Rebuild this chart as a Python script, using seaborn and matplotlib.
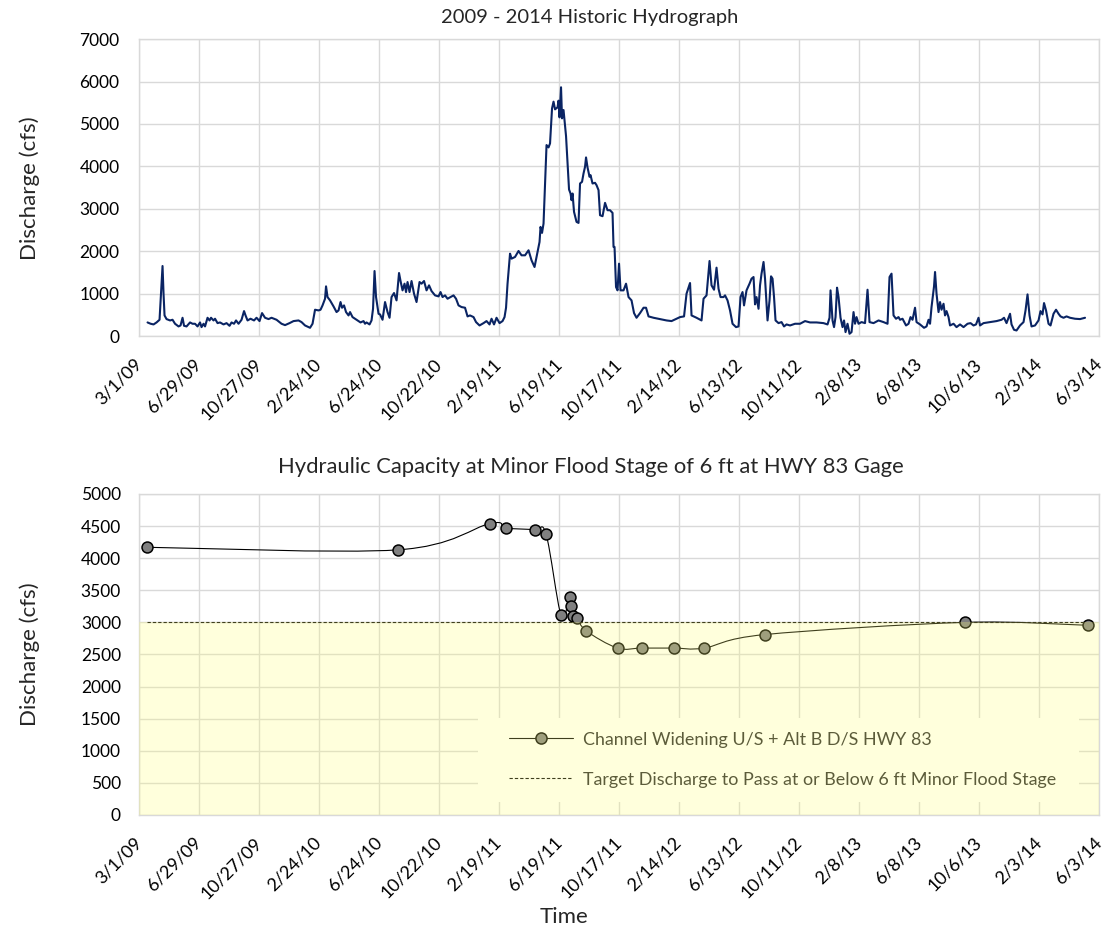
"""
Two stacked panels: 2009-2014 daily hydrograph and the hydraulic capacity
at minor flood stage (6 ft) at the HWY 83 gage.
"""

import numpy as np
import matplotlib
matplotlib.use("Agg")
import matplotlib.pyplot as plt
from matplotlib.path import Path
from matplotlib.patches import PathPatch, Rectangle
from matplotlib.lines import Line2D
import seaborn as sns

# ---------------------------------------------------------------------------
# Data  (x = days since 3/1/09)
# ---------------------------------------------------------------------------

tick_labels = ["3/1/09", "6/29/09", "10/27/09", "2/24/10", "6/24/10", "10/22/10",
               "2/19/11", "6/19/11", "10/17/11", "2/14/12", "6/13/12", "10/11/12",
               "2/8/13", "6/8/13", "10/6/13", "2/3/14", "6/3/14"]

hydro_day = [
    17, 23, 29, 35, 41, 44, 47, 49, 51, 55, 62, 67, 72, 79, 83, 87, 90, 95, 102, 107,
    112, 117, 122, 125, 129, 132, 137, 141, 144, 149, 152, 157, 162, 169, 175, 181, 185, 190, 194, 199,
    205, 210, 213, 217, 223, 230, 235, 241, 246, 252, 259, 265, 275, 285, 292, 301, 309, 319, 325, 332,
    342, 347, 352, 359, 363, 367, 372, 374, 377, 382, 389, 395, 399, 403, 406, 410, 414, 419, 422, 427,
    435, 443, 449, 452, 455, 461, 465, 468, 471, 474, 479,
    482, 487, 492, 497, 501, 505, 510, 515, 520, 523, 527, 531, 534, 537, 541, 545, 550, 555, 561, 565,
    570, 575, 580, 585, 592, 599, 603, 607, 612, 617, 623, 629, 634, 639, 645, 652, 657, 662, 669, 674,
    681, 689, 695, 701, 705, 710, 715, 721, 727, 731, 734, 737, 742, 745, 752, 759, 765, 772, 779, 785,
    791, 795, 801, 803, 806, 809, 812, 815, 819, 822, 826, 829, 832, 837, 839, 841, 844, 846, 849, 854,
    857, 860, 863, 865, 867, 870, 875, 879, 882, 886, 889, 892, 894, 897, 901, 903, 907, 912, 915, 919,
    922, 927, 932, 937,
    942, 947, 949, 951, 954, 957, 960, 963, 969, 974, 979, 985, 990, 995, 1002, 1009, 1014, 1019, 1029, 1042,
    1055, 1065, 1075, 1082, 1090, 1095, 1102, 1105, 1115, 1125, 1129, 1135, 1141, 1145, 1150, 1155, 1159, 1163, 1169, 1172,
    1177, 1182, 1187, 1194, 1199, 1203, 1207, 1210, 1215, 1221, 1225, 1229, 1232, 1235, 1239, 1242, 1245, 1249, 1252, 1257,
    1261, 1264, 1267, 1270, 1273, 1279, 1285, 1290, 1295, 1302, 1312, 1322, 1332, 1342, 1355, 1369, 1377, 1381, 1383, 1387,
    1390, 1393, 1396, 1399, 1403, 1407, 1410, 1413, 1417, 1421,
    1425, 1429, 1432, 1435, 1439, 1445, 1452, 1457, 1461, 1469, 1479, 1489, 1497, 1501, 1505, 1509, 1514, 1519, 1522, 1527,
    1534, 1539, 1543, 1547, 1552, 1555, 1562, 1570, 1575, 1579, 1582, 1585, 1590, 1592, 1595, 1599, 1602, 1605, 1609, 1612,
    1615, 1619, 1622, 1629, 1635, 1642, 1649, 1657, 1663, 1669, 1674, 1679, 1682, 1689, 1702, 1715, 1725, 1730, 1735, 1742,
    1745, 1750, 1755, 1762, 1769, 1773, 1777, 1781, 1785, 1792, 1799, 1803, 1807, 1810, 1814, 1819, 1823, 1829, 1834, 1839,
    1843, 1849, 1855, 1862, 1872, 1882, 1892,
]

hydro_cfs = [
    330, 300, 283, 330, 393, 1006, 1658, 1006, 495, 409, 377, 393, 299, 236, 259, 440, 251, 236, 330, 299,
    299, 236, 330, 220, 299, 236, 440, 377, 440, 377, 417, 314, 330, 283, 314, 251, 330, 299, 377, 299,
    393, 597, 495, 377, 417, 377, 440, 362, 550, 440, 409, 440, 393, 299, 267, 314, 362, 377, 338, 259,
    204, 299, 629, 613, 629, 731, 888, 1179, 927, 849, 707, 574, 613, 810, 676, 731, 574, 495, 574, 456,
    393, 330, 362, 299, 330, 283, 377, 652, 1540, 927, 534,
    519, 393, 810, 574, 440, 927, 1022, 849, 1493, 1305, 1085, 1242, 1045, 1281, 1045, 1305, 1006, 810, 1281, 1242,
    1305, 1085, 1203, 1069, 967, 943, 1045, 927, 967, 888, 927, 967, 888, 731, 692, 676, 472, 495, 456, 338,
    259, 314, 362, 283, 417, 283, 440, 314, 362, 456, 676, 1242, 1949, 1831, 1871, 2012, 1910, 1910, 2028, 1792,
    1635, 1871, 2224, 2578, 2437, 2657, 3600, 4504, 4449, 4543, 5368, 5526, 5345, 5392, 5549, 5156, 5864, 5133, 5329, 4716,
    4071, 3458, 3364, 3207, 3364, 2932, 2696, 2672, 3600, 3639, 3836, 3993, 4213, 3977, 3757, 3796, 3600, 3616, 3561, 3443,
    2853, 2830, 3144, 2971,
    2971, 2908, 2107, 2107, 1163, 1085, 1713, 1085, 1085, 1242, 927, 849, 550, 440, 550, 676, 676, 472, 440, 409,
    377, 362, 417, 456, 472, 1006, 1258, 495, 440, 377, 888, 967, 1776, 1203, 1100, 1619, 1124, 927, 927, 967,
    849, 613, 299, 220, 236, 927, 1045, 731, 1085, 1242, 1360, 1399, 755, 927, 652, 1203, 1478, 1753, 1360, 377,
    849, 1415, 1360, 927, 377, 314, 338, 236, 283, 259, 299, 299, 362, 330, 330, 314, 283, 440, 1085, 377,
    220, 456, 1148, 927, 440, 220, 377, 102, 299, 63,
    102, 574, 299, 456, 299, 338, 314, 1100, 338, 314, 377, 338, 299, 1399, 1478, 495, 417, 456, 393, 417,
    259, 299, 456, 393, 676, 338, 283, 204, 236, 393, 299, 692, 1179, 1517, 1006, 574, 810, 629, 770, 495,
    597, 456, 259, 299, 220, 283, 220, 299, 314, 259, 283, 440, 259, 314, 338, 362, 393, 440, 314, 534,
    283, 157, 141, 259, 338, 613, 990, 495, 236, 259, 377, 597, 519, 786, 613, 299, 259, 534, 629, 534,
    472, 440, 472, 440, 417, 409, 440,
]

cap_day = [16, 518, 702, 733, 791, 814, 844, 861, 863, 868, 876, 894,
           957, 1006, 1069, 1130, 1251, 1651, 1897]
cap_cfs = [4170, 4130, 4540, 4470, 4440, 4375, 3110, 3390, 3250, 3100, 3070, 2870,
           2600, 2600, 2600, 2600, 2810, 3000, 2955]

target_cfs = 3000

legend_labels = ["Channel Widening U/S + Alt B D/S HWY 83",
                 "Target Discharge to Pass at or Below 6 ft Minor Flood Stage"]

NAVY = "#0A2463"
GRID = "#D9D9D9"
MARKER = "#808080"


# ---------------------------------------------------------------------------
# Helpers
# ---------------------------------------------------------------------------

def smooth_path(x, y):
    """Excel-style smoothed line: Catmull-Rom segments drawn as cubic Beziers."""
    pts = np.column_stack([x, y]).astype(float)
    padded = np.vstack([pts[0], pts, pts[-1]])
    verts = [pts[0]]
    codes = [Path.MOVETO]
    for i in range(1, len(padded) - 2):
        p0, p1, p2, p3 = padded[i - 1], padded[i], padded[i + 1], padded[i + 2]
        verts += [p1 + (p2 - p0) / 6, p2 - (p3 - p1) / 6, p2]
        codes += [Path.CURVE4] * 3
    return Path(verts, codes)


def style_axes(ax, ymax, ystep, ypad):
    ax.set_xlim(0, 1920)
    ax.set_ylim(0, ymax)
    ax.set_xticks(np.arange(0, 1921, 120))
    ax.set_xticklabels(tick_labels, rotation=45, ha="right", va="center",
                       rotation_mode="anchor")
    ax.set_yticks(np.arange(0, ymax + 1, ystep))
    ax.grid(True, color=GRID, lw=1.0)
    ax.set_axisbelow(True)
    ax.tick_params(length=0, colors="black")
    ax.tick_params(axis="x", pad=18, labelsize=13)
    ax.tick_params(axis="y", pad=ypad, labelsize=12.5)
    for s in ax.spines.values():
        s.set_color(GRID)
        s.set_linewidth(1.0)
    ax.set_xlabel("")
    ax.set_ylabel("Discharge (cfs)", fontsize=16)
    ax.yaxis.set_label_coords(-0.103, 0.5)


# ---------------------------------------------------------------------------
# Figure
# ---------------------------------------------------------------------------

sns.set_style("white")
plt.rcParams["font.family"] = ["Lato", "DejaVu Sans"]

fig = plt.figure(figsize=(11.07, 9.31), dpi=100)
ax1 = fig.add_axes([0.1256, 0.6386, 0.8672, 0.3195])
ax2 = fig.add_axes([0.1256, 0.1246, 0.8672, 0.3448])

# top: historic hydrograph
sns.lineplot(x=hydro_day, y=hydro_cfs, ax=ax1, color=NAVY, lw=1.5,
             estimator=None, sort=False)
style_axes(ax1, 7000, 1000, 14)

# bottom: hydraulic capacity
ax2.add_patch(PathPatch(smooth_path(cap_day, cap_cfs), fc="none", ec="black",
                        lw=0.8, zorder=3))
sns.scatterplot(x=cap_day, y=cap_cfs, ax=ax2, color=MARKER, edgecolor="black",
                linewidth=1.1, s=62, zorder=4)
sns.lineplot(x=[cap_day[0], cap_day[-1]], y=[target_cfs, target_cfs], ax=ax2,
             color="black", lw=0.8, linestyle=(0, (3, 1.8)), zorder=3)
style_axes(ax2, 5000, 500, 13)

# legend box (white) sits under the translucent yellow band
ax2.add_patch(Rectangle((0.353, 0.0405), 0.626, 0.2615, transform=ax2.transAxes,
                        fc="white", ec="none", zorder=4.5))
handles = [
    Line2D([], [], color="black", lw=0.8, marker="o", ms=8, mfc=MARKER,
           mec="black", mew=1.1),
    Line2D([], [], color="black", lw=0.8, linestyle=(0, (3, 1.8))),
]
ax2.legend(handles, legend_labels, loc="upper left", bbox_to_anchor=(0.3854, 0.2600),
           frameon=False, borderpad=0, borderaxespad=0, handlelength=3.55,
           handletextpad=0.6, labelspacing=1.35, fontsize=12.9)

ax2.fill_between([0, 1920], 0, target_cfs, color="#FFFF77", alpha=0.25,
                 lw=0, zorder=6)

fig.text(590 / 1107, 1 - 17 / 931, "2009 - 2014 Historic Hydrograph",
         ha="center", va="center", fontsize=14.5)
fig.text(591 / 1107, 1 - 467 / 931,
         "Hydraulic Capacity at Minor Flood Stage of 6 ft at HWY 83 Gage",
         ha="center", va="center", fontsize=15.8)
fig.text(564 / 1107, 1 - 917 / 931, "Time", ha="center", va="center", fontsize=16)

fig.savefig("out.png", dpi=100)
plt.close(fig)
